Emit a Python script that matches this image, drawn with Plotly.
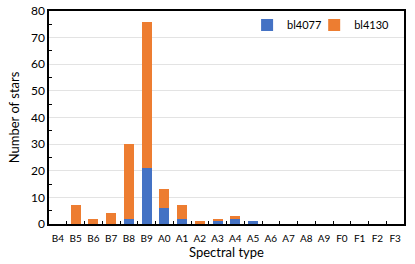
import plotly.graph_objects as go

types = ["B4", "B5", "B6", "B7", "B8", "B9", "A0", "A1", "A2", "A3",
         "A4", "A5", "A6", "A7", "A8", "A9", "F0", "F1", "F2", "F3"]
bl4077 = [0, 0, 0, 0, 2, 21, 6, 2, 0, 1, 2, 1, 0, 0, 0, 0, 0, 0, 0, 0]
bl4130 = [0, 7, 2, 4, 28, 55, 7, 5, 1, 1, 1, 0, 0, 0, 0, 0, 0, 0, 0, 0]

FONT = "Lato, Open Sans, sans-serif"

fig = go.Figure()
fig.add_trace(go.Bar(x=types, y=bl4077, name="bl4077", legend="legend",
                     marker=dict(color="#4472C4", line=dict(width=0))))
fig.add_trace(go.Bar(x=types, y=bl4130, name="bl4130", legend="legend2",
                     marker=dict(color="#ED7D31", line=dict(width=0))))

leg = dict(orientation="h", y=0.934, xanchor="left", yanchor="middle",
           font=dict(size=11), bgcolor="rgba(0,0,0,0)", itemwidth=30)

fig.update_layout(
    barmode="stack",
    bargap=0.44,
    width=415, height=264,
    margin=dict(l=49, r=11, t=11, b=40, autoexpand=False),
    paper_bgcolor="white", plot_bgcolor="white",
    font=dict(family=FONT, color="#000000"),
    legend=dict(leg, x=0.558),
    legend2=dict(leg, x=0.747),
    showlegend=True,
)
fig.update_xaxes(
    type="category", tickson="boundaries", ticks="inside", ticklen=3, tickcolor="black",
    tickangle=0, tickfont=dict(size=10), ticklabelstandoff=4, automargin=False,
    showline=True, linecolor="black", linewidth=1.5, mirror=True,
    title=dict(text="Spectral type", font=dict(size=13), standoff=2), showgrid=False,
)
fig.update_yaxes(
    range=[0, 80], dtick=10, showgrid=True, gridcolor="#E3E3E3", gridwidth=1, automargin=False,
    ticks="", tickfont=dict(size=12), showline=True, linecolor="black", linewidth=1.5, mirror=True,
    minor=dict(dtick=5, ticks="inside", ticklen=3, tickcolor="black", showgrid=False),
    title=dict(text="Number of stars", font=dict(size=13), standoff=8), zeroline=False,
)
fig.write_html("out.html", config={"displayModeBar": False},
               post_script="document.body.style.margin='0';")
